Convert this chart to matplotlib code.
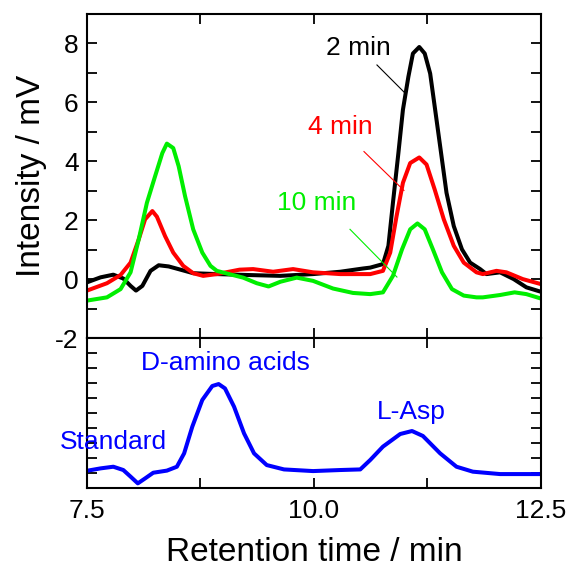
import numpy as np
import matplotlib.pyplot as plt
from matplotlib.ticker import MultipleLocator

plt.rcParams['font.family'] = ['Liberation Sans', 'DejaVu Sans']

"""Chromatograms read off the figure (time in min, signal in mV)"""
t_2min = [7.50, 7.65, 7.79, 7.90, 7.98, 8.04, 8.11, 8.20, 8.29, 8.40, 8.53, 8.67,
          8.93, 9.26, 9.63, 9.99, 10.29, 10.54, 10.62, 10.76, 10.82, 10.87, 10.93,
          10.98, 11.04, 11.09, 11.16, 11.22, 11.28, 11.33, 11.39, 11.46, 11.54,
          11.63, 11.72, 11.83, 11.90, 12.05, 12.20, 12.34, 12.50]
i_2min = [-0.11, 0.06, 0.15, 0.02, -0.23, -0.39, -0.23, 0.28, 0.47, 0.43, 0.32, 0.20,
          0.17, 0.14, 0.11, 0.17, 0.25, 0.36, 0.39, 0.51, 1.13, 2.59, 4.28,
          5.75, 6.87, 7.66, 7.88, 7.66, 6.98, 5.86, 4.51, 2.93, 1.80,
          1.01, 0.56, 0.34, 0.17, 0.23, 0.00, -0.28, -0.43]

t_4min = [7.50, 7.72, 7.87, 7.98, 8.07, 8.14, 8.22, 8.27, 8.36, 8.45, 8.56, 8.67,
          8.78, 8.93, 9.18, 9.33, 9.55, 9.77, 9.99, 10.29, 10.62, 10.76, 10.84,
          10.91, 10.98, 11.06, 11.16, 11.24, 11.33, 11.43, 11.54, 11.65, 11.79,
          11.86, 12.01, 12.12, 12.30, 12.50]
i_4min = [-0.39, -0.14, 0.14, 0.56, 1.35, 2.03, 2.31, 2.12, 1.46, 0.90, 0.45, 0.20,
          0.11, 0.17, 0.32, 0.34, 0.25, 0.34, 0.23, 0.17, 0.17, 0.28, 0.90,
          2.14, 3.27, 3.94, 4.13, 3.89, 3.04, 2.03, 1.13, 0.56, 0.23,
          0.17, 0.28, 0.23, 0.00, -0.17]

t_10min = [7.50, 7.72, 7.87, 7.98, 8.07, 8.16, 8.25, 8.33, 8.38, 8.45, 8.51, 8.58,
           8.67, 8.77, 8.86, 8.93, 9.04, 9.22, 9.37, 9.50, 9.63, 9.81, 9.99,
           10.21, 10.43, 10.62, 10.76, 10.87, 10.97, 11.06, 11.14, 11.22, 11.31,
           11.41, 11.52, 11.65, 11.79, 11.86, 12.05, 12.21, 12.34, 12.50]
i_10min = [-0.73, -0.62, -0.34, 0.23, 1.35, 2.59, 3.49, 4.28, 4.60, 4.45, 3.83, 2.82,
           1.69, 0.90, 0.45, 0.28, 0.19, 0.05, -0.14, -0.25, -0.09, 0.05, -0.06,
           -0.32, -0.47, -0.51, -0.45, 0.11, 1.01, 1.69, 1.89, 1.69, 1.01,
           0.23, -0.34, -0.56, -0.62, -0.62, -0.54, -0.45, -0.51, -0.66]

"""Standard (arbitrary units)"""
t_std = [7.50, 7.65, 7.79, 7.90, 7.98, 8.06, 8.14, 8.23, 8.38, 8.49, 8.57, 8.66,
         8.77, 8.88, 8.95, 9.02, 9.12, 9.23, 9.34, 9.48, 9.67, 9.99, 10.29, 10.51,
         10.62, 10.76, 10.95, 11.08, 11.20, 11.39, 11.57, 11.75, 12.05, 12.50]
i_std = [1.15, 1.31, 1.42, 1.20, 0.76, 0.31, 0.64, 1.02, 1.16, 1.42, 2.31, 4.09,
         5.87, 6.80, 6.93, 6.64, 5.42, 3.64, 2.31, 1.53, 1.24, 1.13, 1.20, 1.24,
         1.87, 2.76, 3.60, 3.80, 3.47, 2.31, 1.42, 1.09, 0.93, 0.93]

fig = plt.figure(figsize=(5.70, 5.77), dpi=100)
ax1 = fig.add_axes([0.1526, 0.4142, 0.7964, 0.5615])
ax2 = fig.add_axes([0.1526, 0.1542, 0.7964, 0.2600])

lw = 2.9
kw = dict(lw=lw, solid_joinstyle='round', solid_capstyle='round')
ax1.plot(t_2min, i_2min, color='black', **kw)
ax1.plot(t_4min, i_4min, color='#ff0000', **kw)
ax1.plot(t_10min, i_10min, color='#00ee00', **kw)
ax2.plot(t_std, i_std, color='#0000ff', **kw)

# labels with leader lines
fs = 19
ax1.text(10.485, 7.84, '2 min', color='black', fontsize=fs, ha='center', va='center')
ax1.plot([10.694, 11.002], [7.27, 6.32], color='black', lw=0.8)
ax1.text(10.286, 5.17, '4 min', color='#ff0000', fontsize=fs, ha='center', va='center')
ax1.plot([10.551, 10.991], [4.33, 3.01], color='#ff0000', lw=0.8)
ax1.text(10.033, 2.57, '10 min', color='#00ee00', fontsize=fs, ha='center', va='center')
ax1.plot([10.397, 10.914], [1.69, 0.07], color='#00ee00', lw=0.8)

ax2.text(9.02, 8.33, 'D-amino acids', color='#0000ff', fontsize=fs, ha='center', va='center')
ax2.text(11.07, 5.07, 'L-Asp', color='#0000ff', fontsize=fs, ha='center', va='center')
ax2.text(7.79, 3.07, 'Standard', color='#0000ff', fontsize=fs, ha='center', va='center')

ax1.set_xlim(7.5, 12.5)
ax1.set_ylim(-2, 9)
ax2.set_xlim(7.5, 12.5)
ax2.set_ylim(0, 10)

for ax in (ax1, ax2):
    ax.xaxis.set_major_locator(MultipleLocator(2.5))
    ax.xaxis.set_minor_locator(MultipleLocator(1.25))
    ax.tick_params(which='both', direction='in', top=True, right=True,
                   length=7, width=1.3, labelsize=19)
    for s in ax.spines.values():
        s.set_linewidth(1.5)

ax1.yaxis.set_major_locator(MultipleLocator(2))
ax1.yaxis.set_minor_locator(MultipleLocator(1))
ax1.set_yticks([-2, 0, 2, 4, 6, 8])
ax1.set_yticklabels(['-2', '0', '2', '4', '6', '8'])
ax1.tick_params(axis='x', labelbottom=False)
ax1.tick_params(axis='y', pad=6)

ax2.yaxis.set_major_locator(MultipleLocator(1))
ax2.tick_params(axis='y', labelleft=False)
ax2.tick_params(axis='x', pad=8)
ax2.set_xticks([7.5, 10, 12.5])
ax2.set_xticklabels(['7.5', '10.0', '12.5'])

ax1.set_ylabel('Intensity / mV', fontsize=24, labelpad=6)
ax2.set_xlabel('Retention time / min', fontsize=24, labelpad=10)

plt.savefig('out.png', dpi=100)
